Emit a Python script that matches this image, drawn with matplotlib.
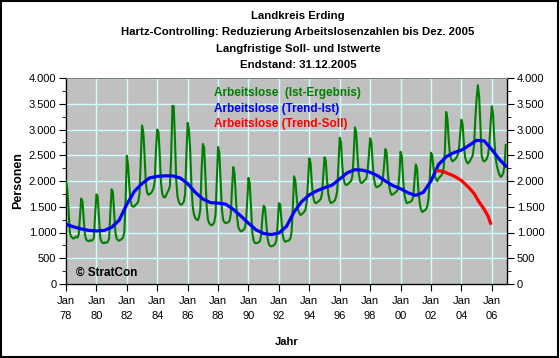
import numpy as np
import matplotlib
matplotlib.use("Agg")
import matplotlib.pyplot as plt
from matplotlib.patches import Rectangle
from matplotlib.ticker import FixedLocator, MultipleLocator, FuncFormatter

plt.rcParams['font.family'] = ['Liberation Sans', 'DejaVu Sans']

# Ist-Ergebnis, Monatswerte Jan..Dez, 1978 - 2006
years = list(range(1978, 2007))
ist_monthly = [
    [2000, 1850, 1450, 1000, 920, 900, 880, 900, 920, 900, 950, 1300],      # 1978
    [1660, 1600, 1250, 950, 860, 840, 830, 850, 840, 850, 900, 1350],       # 1979
    [1740, 1700, 1300, 900, 820, 800, 790, 810, 800, 820, 880, 1400],       # 1980
    [1840, 1780, 1400, 1000, 880, 850, 840, 860, 870, 900, 1000, 1600],     # 1981
    [2490, 2300, 1900, 1600, 1520, 1500, 1510, 1540, 1560, 1600, 1750, 2400],  # 1982
    [3080, 2950, 2500, 1950, 1780, 1730, 1750, 1760, 1800, 1850, 2000, 2600],  # 1983
    [3000, 2950, 2500, 1950, 1750, 1690, 1680, 1720, 1780, 1820, 1900, 2500],  # 1984
    [3460, 3450, 2800, 2000, 1700, 1600, 1550, 1540, 1560, 1600, 1750, 2500],  # 1985
    [3130, 3000, 2600, 1900, 1500, 1350, 1280, 1250, 1240, 1300, 1450, 2200],  # 1986
    [2720, 2650, 2100, 1500, 1250, 1180, 1150, 1140, 1160, 1200, 1350, 2000],  # 1987
    [2660, 2550, 2000, 1450, 1250, 1200, 1180, 1190, 1200, 1220, 1350, 1850],  # 1988
    [2270, 2150, 1700, 1300, 1100, 1050, 1020, 1030, 1050, 1080, 1200, 1600],  # 1989
    [2060, 1950, 1500, 1000, 850, 800, 790, 800, 810, 830, 950, 1300],      # 1990
    [1520, 1480, 1200, 900, 780, 740, 730, 740, 750, 780, 850, 1150],       # 1991
    [1570, 1550, 1250, 950, 850, 820, 830, 840, 850, 880, 1000, 1500],      # 1992
    [2090, 2000, 1700, 1450, 1380, 1340, 1350, 1380, 1400, 1450, 1600, 2000],  # 1993
    [2440, 2350, 1950, 1700, 1600, 1570, 1580, 1600, 1620, 1650, 1750, 2100],  # 1994
    [2460, 2400, 2000, 1750, 1620, 1570, 1580, 1600, 1620, 1680, 1800, 2300],  # 1995
    [2840, 2750, 2300, 2050, 1950, 1920, 1930, 1950, 1980, 2000, 2100, 2500],  # 1996
    [3040, 2950, 2500, 2150, 2000, 1960, 1970, 2000, 2020, 2050, 2200, 2500],  # 1997
    [2830, 2750, 2350, 2050, 1920, 1880, 1890, 1900, 1920, 1950, 2050, 2300],  # 1998
    [2620, 2550, 2150, 1900, 1780, 1730, 1740, 1760, 1780, 1800, 1850, 2100],  # 1999
    [2570, 2480, 2050, 1750, 1620, 1570, 1580, 1590, 1600, 1620, 1700, 2000],  # 2000
    [2320, 2250, 1850, 1600, 1450, 1400, 1410, 1430, 1450, 1500, 1650, 2000],  # 2001
    [2550, 2500, 2250, 2100, 2030, 2000, 2050, 2080, 2100, 2150, 2250, 2600],  # 2002
    [3340, 3200, 2800, 2500, 2420, 2380, 2400, 2420, 2450, 2500, 2600, 2900],  # 2003
    [3190, 3100, 2700, 2450, 2380, 2340, 2360, 2400, 2450, 2500, 2700, 3200],  # 2004
    [3600, 3860, 3650, 3100, 2500, 2400, 2380, 2400, 2430, 2500, 2700, 3100],  # 2005
    [3450, 3300, 2800, 2450, 2300, 2200, 2120, 2080, 2100, 2150, 2300, 2700],  # 2006
]

# Trend-Ist (Halbjahreswerte)
trend_ist_x = [1978.0, 1978.5, 1979.0, 1979.5, 1980.0, 1980.5, 1981.0, 1981.5,
               1982.0, 1982.5, 1983.0, 1983.5, 1984.0, 1984.5, 1985.0, 1985.5,
               1986.0, 1986.5, 1987.0, 1987.5, 1988.0, 1988.5, 1989.0, 1989.5,
               1990.0, 1990.5, 1991.0, 1991.5, 1992.0, 1992.5, 1993.0, 1993.5,
               1994.0, 1994.5, 1995.0, 1995.5, 1996.0, 1996.5, 1997.0, 1997.5,
               1998.0, 1998.5, 1999.0, 1999.5, 2000.0, 2000.5, 2001.0, 2001.5,
               2002.0, 2002.5, 2003.0, 2003.5, 2004.0, 2004.5, 2005.0, 2005.5,
               2006.0, 2006.5, 2006.92]
trend_ist_y = [1160, 1110, 1070, 1040, 1030, 1040, 1100, 1240,
               1550, 1800, 1950, 2060, 2090, 2100, 2100, 2060,
               1950, 1780, 1650, 1580, 1570, 1550, 1450, 1320,
               1180, 1050, 980, 960, 990, 1120, 1400, 1600,
               1730, 1810, 1870, 1920, 2040, 2160, 2220, 2210,
               2170, 2100, 2000, 1910, 1850, 1770, 1720, 1780,
               2000, 2320, 2470, 2550, 2600, 2690, 2790, 2780,
               2610, 2420, 2290]

# Trend-Soll
trend_soll_x = [2002.42, 2002.75, 2003.08, 2003.5, 2004.0, 2004.5, 2004.83,
                2005.17, 2005.5, 2005.75, 2005.92]
trend_soll_y = [2200, 2190, 2150, 2100, 2010, 1870, 1760, 1590, 1450, 1320, 1180]

tick_years = list(range(1978, 2007, 2))
tick_labels = ['Jan\n%02d' % (y % 100) for y in tick_years]

ist = np.array(ist_monthly).ravel()
ist_x = 1978 + np.arange(len(ist)) / 12.0

fig = plt.figure(figsize=(5.6, 3.58), dpi=100)
fig.patch.set_facecolor('white')
ax = fig.add_axes([66 / 560, 1 - 284 / 358, 441 / 560, 206 / 358])
ax.set_facecolor('#c0c0c0')

ax.plot(ist_x, ist, color='#008000', lw=1.5, zorder=3)
ax.plot(trend_ist_x, trend_ist_y, color='#0000ff', lw=2.3, zorder=4)
ax.plot(trend_soll_x, trend_soll_y, color='#ff0000', lw=2.3, zorder=5)

ax.set_xlim(1978, 2007)
ax.set_ylim(0, 4000)
ax.xaxis.set_major_locator(FixedLocator(tick_years))
ax.set_xticklabels(tick_labels, fontsize=8, linespacing=1.6)
ax.yaxis.set_major_locator(MultipleLocator(500))
ax.yaxis.set_minor_locator(MultipleLocator(250))
ax.yaxis.set_major_formatter(FuncFormatter(lambda v, p: '{:,.0f}'.format(v).replace(',', '.')))
ax.tick_params(axis='y', which='both', left=True, right=True, labelleft=True,
               labelright=True, direction='out', labelsize=8, pad=2)
ax.tick_params(axis='y', which='major', length=5)
ax.tick_params(axis='y', which='minor', length=3)
ax.tick_params(axis='x', direction='out', length=5, pad=4)
ax.grid(True, which='major', color='#ccffff', lw=1, zorder=1)
ax.set_axisbelow(True)

for s in ['left', 'right', 'bottom']:
    ax.spines[s].set_color('black')
    ax.spines[s].set_linewidth(1)
ax.spines['top'].set_color('#808080')

ax.set_ylabel('Personen', fontsize=9, fontweight='bold', labelpad=3)
ax.set_xlabel('Jahr', fontsize=8, fontweight='bold', labelpad=11)

# Legende als farbiger Text
ax.text(0.336, 0.927, 'Arbeitslose  (Ist-Ergebnis)', color='#008000', fontsize=8.5,
        fontweight='bold', transform=ax.transAxes, va='center')
ax.text(0.336, 0.850, 'Arbeitslose (Trend-Ist)', color='#0000ff', fontsize=8.5,
        fontweight='bold', transform=ax.transAxes, va='center')
ax.text(0.336, 0.777, 'Arbeitslose (Trend-Soll)', color='#ff0000', fontsize=8.5,
        fontweight='bold', transform=ax.transAxes, va='center')
ax.text(0.023, 0.055, '© StratCon', fontsize=8.5, fontweight='bold',
        transform=ax.transAxes, va='center')

titles = ['Landkreis Erding',
          'Hartz-Controlling: Reduzierung Arbeitslosenzahlen bis Dez. 2005',
          'Langfristige Soll- und Istwerte',
          'Endstand: 31.12.2005']
for i, t in enumerate(titles):
    fig.text(298 / 560, 1 - (16 + 16.3 * i) / 358, t, ha='center', va='center',
             fontsize=8.2, fontweight='bold')

fig.add_artist(Rectangle((0.002, 0.003), 0.995, 0.994, transform=fig.transFigure,
                         fill=False, edgecolor='black', lw=1.5))

fig.savefig('out.png', dpi=100)
